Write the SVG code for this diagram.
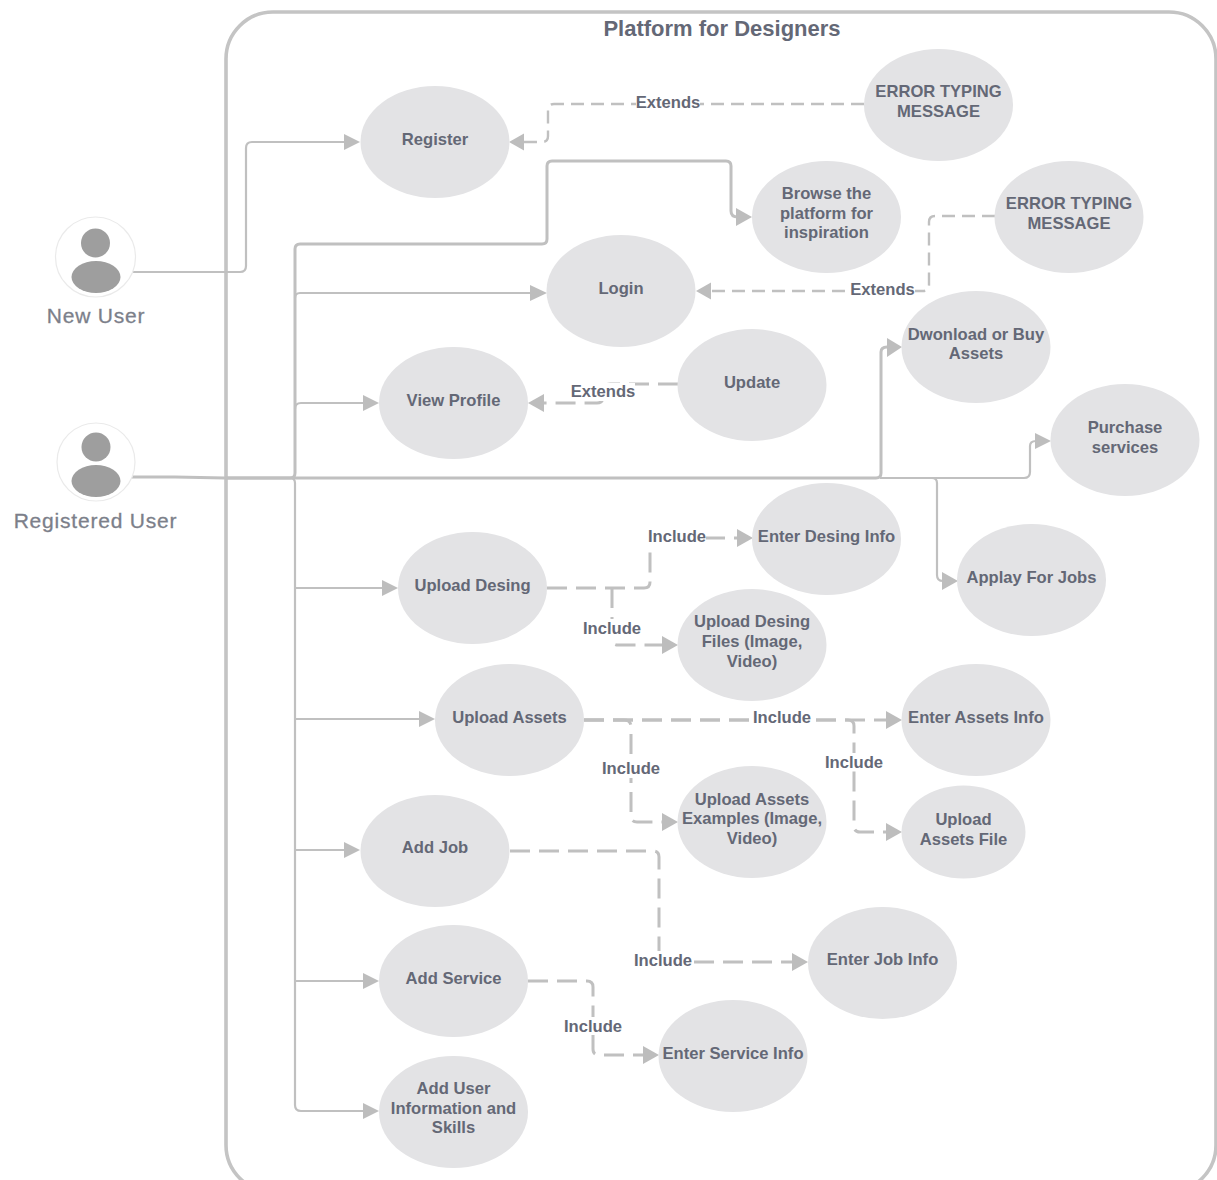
<svg xmlns="http://www.w3.org/2000/svg" width="1217" height="1180" viewBox="0 0 1217 1180">
<style>
text{font-family:"Liberation Sans",Arial,sans-serif;font-weight:700;font-size:16.6px;fill:#646876;text-anchor:middle}
.n ellipse{fill:#e3e3e5}
.c path{fill:none;stroke:#c0c0c0;stroke-width:2.2;stroke-linejoin:round}
.c .t{stroke-width:3}
.c .d{stroke-dasharray:13 7;stroke-width:2.4}
.c .e{stroke-dasharray:20 9;stroke-width:3}
.c polygon{fill:#bdbdbd;stroke:none}
.a circle.o{fill:#fff;stroke:#eaeaea;stroke-width:1.2}
.a .p{fill:#9e9e9e}
.a text{font-weight:400;font-size:21px;fill:#7c7f8a;letter-spacing:.8px;stroke:#7c7f8a;stroke-width:.3}
.l{fill:#fff}
</style>
<rect x="226" y="12" width="990" height="1180" rx="47" fill="none" stroke="#c4c4c4" stroke-width="3.6"/>
<text x="722" y="36" style="font-size:22px">Platform for Designers</text>
<g class="c" id="connectors">
<path d="M131 272H240Q246 272 246 266V148Q246 142 252 142H345"/><polygon points="360,142 344,134 344,150"/>
<path class="t" d="M131 477H175L225 478H290Q295 478 295 473V249Q295 244 300 244H542Q547 244 547 239V166Q547 161 552 161H726Q731 161 731 166V211Q731 217 738 217"/><polygon points="752,217 736,208 736,226"/>
<path d="M295 298Q295 293 300 293H532"/><polygon points="547,293 530,285 530,301"/>
<path d="M295 409Q295 403 301 403H365"/><polygon points="379,403 363,395 363,411"/>
<path class="t" d="M225 478H876Q881 478 881 473V352Q881 347 887 347"/><polygon points="902,347 887,338 887,357"/>
<path d="M880 478H1024Q1030 478 1030 472V446Q1030 441 1036 441"/><polygon points="1051,441 1035,433 1035,449"/>
<path d="M880 478H932Q937 478 937 483V575Q937 581 943 581"/><polygon points="958,581 942,572 942,590"/>
<path d="M290 478Q295 478 295 483V1105Q295 1111 301 1111H365"/><polygon points="379,1111 363,1103 363,1119"/>
<path d="M295 588H384"/><polygon points="398,588 382,580 382,596"/>
<path d="M295 719H421"/><polygon points="435,719 419,711 419,727"/>
<path d="M295 850H346"/><polygon points="360,850 344,842 344,858"/>
<path d="M295 981H365"/><polygon points="379,981 363,973 363,989"/>
<path class="d" d="M864 104H554Q548 104 548 110V136Q548 142 542 142H524"/><polygon points="509,142 524,133.500 524,150.500"/>
<path class="d" d="M995 216H935Q929 216 929 222V285Q929 291 923 291H711"/><polygon points="696,291 711,282.500 711,299.500"/>
<path class="e" d="M678 384H610Q603 384 603 391V397Q603 403 597 403H543"/><polygon points="528,403 544,394 544,412"/>
<path class="e" d="M547 588H644Q650 588 650 582V544Q650 538 656 538H738"/><polygon points="753,538 737,529 737,547"/>
<path class="e" d="M612 588V639Q612 645 618 645H664"/><polygon points="678,645 662,636 662,654"/>
<path class="e" d="M584 720H888"/><polygon points="902,720 886,711 886,729"/>
<path class="e" d="M584 720H624Q631 720 631 727V816Q631 822 637 822H664"/><polygon points="678,822 662,813 662,831"/>
<path class="e" d="M584 720H848Q854 720 854 726V826Q854 832 860 832H888"/><polygon points="902,832 886,823 886,841"/>
<path class="e" d="M510 851H653Q659 851 659 857V956Q659 962 665 962H794"/><polygon points="808,962 792,953 792,971"/>
<path class="e" d="M528 981H587Q593 981 593 987V1049Q593 1055 599 1055H645"/><polygon points="659,1055 643,1046 643,1064"/>
</g>
<g class="a" id="new-user"><circle class="o" cx="95.500" cy="257" r="40"/><circle class="p" cx="95.500" cy="243" r="14.500"/><ellipse class="p" cx="96" cy="277" rx="24.500" ry="16"/><text x="96" y="323">New User</text></g>
<g class="a" id="registered-user"><circle class="o" cx="96" cy="462" r="39"/><circle class="p" cx="96" cy="447" r="14.500"/><ellipse class="p" cx="96" cy="481" rx="24.500" ry="16"/><text x="95.500" y="528">Registered User</text></g>
<g class="n" id="register"><ellipse cx="435" cy="142" rx="74.500" ry="56"/><text x="435" y="145">Register</text></g>
<g class="n" id="error1"><ellipse cx="938.500" cy="105" rx="74.500" ry="56"/><text x="938.500" y="97">ERROR TYPING</text><text x="938.500" y="117">MESSAGE</text></g>
<g class="n" id="browse"><ellipse cx="826.500" cy="217" rx="74.500" ry="56"/><text x="826.500" y="198.500">Browse the</text><text x="826.500" y="218.500">platform for</text><text x="826.500" y="238">inspiration</text></g>
<g class="n" id="error2"><ellipse cx="1069" cy="217" rx="74.500" ry="56"/><text x="1069" y="209">ERROR TYPING</text><text x="1069" y="229">MESSAGE</text></g>
<g class="n" id="login"><ellipse cx="621" cy="291" rx="74.500" ry="56"/><text x="621" y="294">Login</text></g>
<g class="n" id="download"><ellipse cx="976" cy="347" rx="74.500" ry="56"/><text x="976" y="339.500">Dwonload or Buy</text><text x="976" y="359">Assets</text></g>
<g class="n" id="update"><ellipse cx="752" cy="385" rx="74.500" ry="56"/><text x="752" y="387.500">Update</text></g>
<g class="n" id="view-profile"><ellipse cx="453.500" cy="403" rx="74.500" ry="56"/><text x="453.500" y="405.500">View Profile</text></g>
<g class="n" id="purchase"><ellipse cx="1125" cy="440" rx="74.500" ry="56"/><text x="1125" y="432.500">Purchase</text><text x="1125" y="452.500">services</text></g>
<g class="n" id="enter-desing"><ellipse cx="826.500" cy="539" rx="74.500" ry="56"/><text x="826.500" y="541.500">Enter Desing Info</text></g>
<g class="n" id="apply"><ellipse cx="1031.500" cy="580" rx="74.500" ry="56"/><text x="1031.500" y="583">Applay For Jobs</text></g>
<g class="n" id="upload-desing"><ellipse cx="472.500" cy="588" rx="74.500" ry="56"/><text x="472.500" y="591">Upload Desing</text></g>
<g class="n" id="upload-files"><ellipse cx="752" cy="645" rx="74.500" ry="56"/><text x="752" y="627">Upload Desing</text><text x="752" y="647">Files (Image,</text><text x="752" y="667">Video)</text></g>
<g class="n" id="upload-assets"><ellipse cx="509.500" cy="720" rx="74.500" ry="56"/><text x="509.500" y="723">Upload Assets</text></g>
<g class="n" id="enter-assets"><ellipse cx="976" cy="720" rx="74.500" ry="56"/><text x="976" y="723">Enter Assets Info</text></g>
<g class="n" id="upload-examples"><ellipse cx="752" cy="822" rx="74.500" ry="56"/><text x="752" y="804.500">Upload Assets</text><text x="752" y="824">Examples (Image,</text><text x="752" y="844">Video)</text></g>
<g class="n" id="upload-file"><ellipse cx="963.500" cy="832" rx="62" ry="46.500"/><text x="963.500" y="825">Upload</text><text x="963.500" y="844.500">Assets File</text></g>
<g class="n" id="add-job"><ellipse cx="435" cy="851" rx="74.500" ry="56"/><text x="435" y="853">Add Job</text></g>
<g class="n" id="enter-job"><ellipse cx="882.500" cy="963" rx="74.500" ry="56"/><text x="882.500" y="965">Enter Job Info</text></g>
<g class="n" id="add-service"><ellipse cx="453.500" cy="981" rx="74.500" ry="56"/><text x="453.500" y="984">Add Service</text></g>
<g class="n" id="enter-service"><ellipse cx="733" cy="1056" rx="74.500" ry="56"/><text x="733" y="1058.500">Enter Service Info</text></g>
<g class="n" id="add-user"><ellipse cx="453.500" cy="1112" rx="74.500" ry="56"/><text x="453.500" y="1093.500">Add User</text><text x="453.500" y="1113.500">Information and</text><text x="453.500" y="1133">Skills</text></g>
<g id="connector-labels">
<rect class="l" x="636" y="94" width="64" height="18"/><text x="668" y="108">Extends</text>
<rect class="l" x="851" y="280" width="64" height="18"/><text x="882.500" y="294.500">Extends</text>
<rect class="l" x="571" y="383" width="64" height="18"/><text x="603" y="397">Extends</text>
<rect class="l" x="648" y="527" width="58" height="18"/><text x="677" y="541.500">Include</text>
<rect class="l" x="583" y="619" width="58" height="18"/><text x="612" y="633.500">Include</text>
<rect class="l" x="753" y="709" width="58" height="18"/><text x="782" y="723">Include</text>
<rect class="l" x="602" y="760" width="58" height="18"/><text x="631" y="774">Include</text>
<rect class="l" x="825" y="753" width="58" height="18"/><text x="854" y="767.500">Include</text>
<rect class="l" x="634" y="951" width="58" height="18"/><text x="663" y="965.500">Include</text>
<rect class="l" x="564" y="1017" width="58" height="18"/><text x="593" y="1031.500">Include</text>
</g>
</svg>
